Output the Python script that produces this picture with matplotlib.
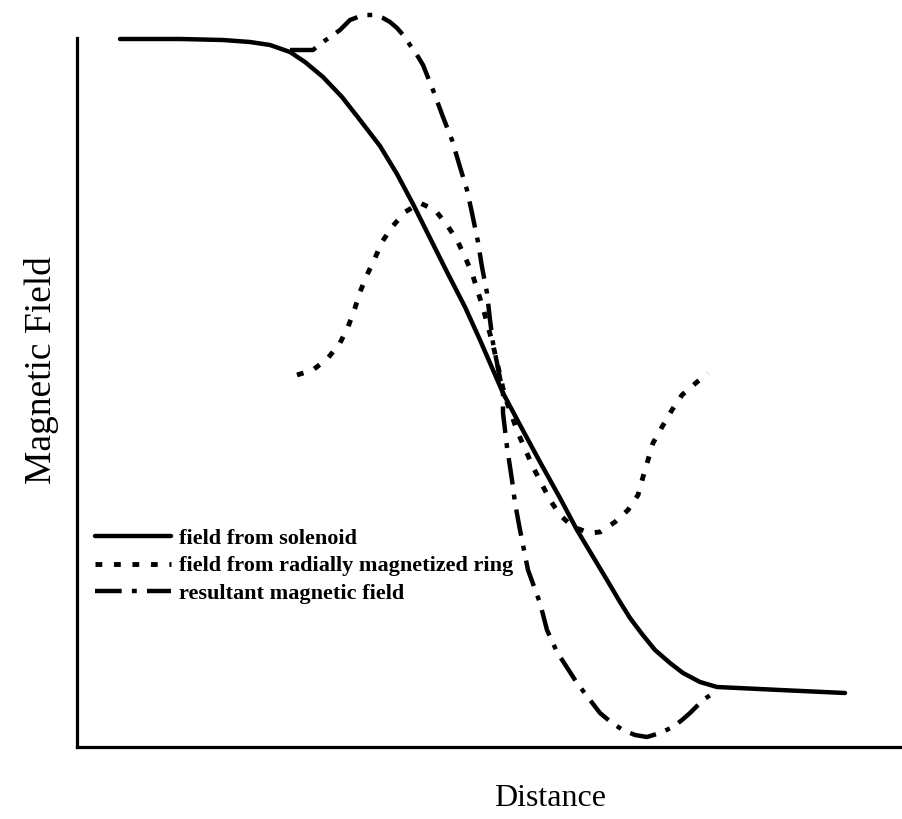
import numpy as np
import matplotlib
matplotlib.use("Agg")
import matplotlib.pyplot as plt

# readings, arbitrary units (distance along axis, field height)
solenoid_x = [43, 103, 146, 173, 193, 213, 228, 246, 265, 283, 303, 320, 336, 353,
              370, 388, 403, 426, 443, 463, 483, 500, 515, 530, 543, 553, 565, 578,
              593, 606, 623, 640, 703, 768]
solenoid_y = [708, 708, 707, 705, 702, 695, 685, 670, 650, 627, 601, 573, 543, 509,
              475, 440, 407, 354, 322, 285, 249, 217, 192, 167, 145, 129, 113, 97,
              84, 74, 65, 60, 57, 54]

ring_x = [220, 236, 251, 263, 271, 278, 283, 290, 298, 305, 315, 328, 343, 358, 370,
          380, 388, 395, 401, 406, 416, 428, 441, 456, 473, 483, 496, 513, 523, 538,
          551, 561, 566, 576, 585, 595, 605, 620, 631]
ring_y = [372, 377, 389, 404, 420, 439, 455, 472, 489, 505, 520, 535, 544, 537, 522,
          507, 490, 474, 455, 439, 402, 350, 314, 280, 247, 232, 220, 214, 215, 225,
          237, 252, 270, 304, 320, 337, 352, 365, 374]

result_x = [213, 236, 246, 256, 263, 273, 281, 290, 298, 306, 313, 320, 327, 333, 340,
            346, 356, 366, 375, 383, 390, 395, 401, 405, 410, 413, 416, 421, 426, 426,
            430, 435, 438, 443, 451, 463, 470, 480, 500, 523, 535, 546, 558, 570, 583,
            596, 605, 613, 626, 638]
result_y = [697, 697, 705, 712, 717, 727, 730, 732, 732, 729, 725, 719, 711, 702, 692,
            682, 657, 630, 607, 580, 557, 534, 505, 480, 454, 427, 404, 379, 354, 334,
            300, 267, 244, 217, 177, 144, 117, 95, 64, 34, 24, 17, 12, 10, 14,
            20, 27, 34, 47, 55]

labels = ["field from solenoid", "field from radially magnetized ring",
          "resultant magnetic field"]

W, H = 902, 819
plt.rcParams["font.family"] = ["Liberation Serif", "DejaVu Serif"]
fig = plt.figure(figsize=(W / 100, H / 100), dpi=100)
ax = fig.add_axes([77 / W, (819 - 747) / H, (W - 77) / W, (747 - 38) / H])

l1, = ax.plot(solenoid_x, solenoid_y, color="black", lw=3.2,
              solid_capstyle="round", solid_joinstyle="round", clip_on=False)
l2, = ax.plot(ring_x, ring_y, color="black", lw=3.5, dashes=(1.4, 2.4),
              dash_capstyle="butt", clip_on=False)
l3, = ax.plot(result_x, result_y, color="black", lw=3.2, dashes=(6, 2.3, 1.1, 2.3),
              dash_capstyle="butt", clip_on=False)

ax.set_xlim(0, 825)
ax.set_ylim(0, 709)
ax.set_xticks([])
ax.set_yticks([])
for s in ["top", "right"]:
    ax.spines[s].set_visible(False)
for s in ["left", "bottom"]:
    ax.spines[s].set_linewidth(2.3)

ax.set_xlabel("Distance", fontsize=23)
ax.xaxis.set_label_coords(0.573, -0.052)
ax.set_ylabel("Magnetic Field", fontsize=27)
ax.yaxis.set_label_coords(-0.022, 0.532)

ax.legend([l1, l2, l3], labels, loc="center left",
          bbox_to_anchor=(95 / W, 1 - 566 / H), bbox_transform=fig.transFigure,
          frameon=False, borderpad=0, borderaxespad=0, handlelength=3.4,
          handletextpad=0.4, labelspacing=0.3,
          prop={"family": "Liberation Serif", "weight": "bold", "size": 16})

fig.savefig("out.png", dpi=100)
